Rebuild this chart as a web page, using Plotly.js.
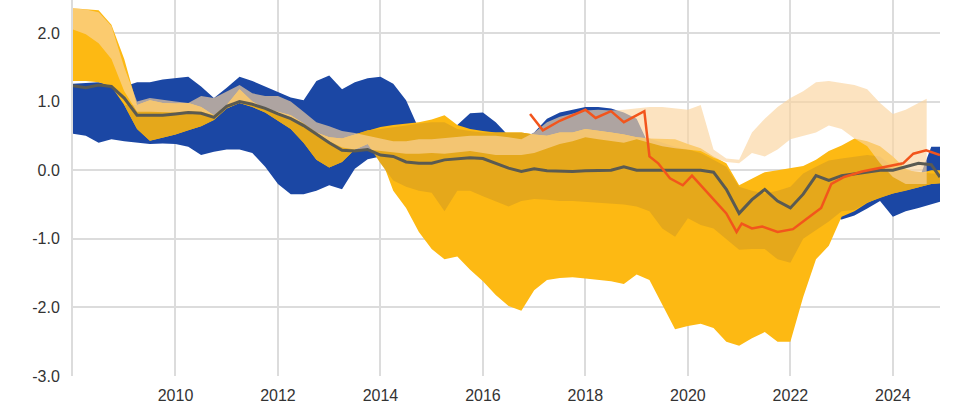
<!DOCTYPE html>
<html>
<head>
<meta charset="utf-8">
<script src="https://cdn.plot.ly/plotly-3.0.1.min.js"></script>
<style>
  html, body { margin: 0; padding: 0; background: #fff; }
  #chart { width: 963px; height: 409px; }
</style>
</head>
<body>
<div id="chart"></div>
<script>
/* ------------------------------------------------------------------ */
/* DATA (quarterly)                              */
/* ------------------------------------------------------------------ */
var quarters = [
  2008.00, 2008.25, 2008.50, 2008.75, 2009.00, 2009.25, 2009.50, 2009.75,
  2010.00, 2010.25, 2010.50, 2010.75, 2011.00, 2011.25, 2011.50, 2011.75,
  2012.00, 2012.25, 2012.50, 2012.75, 2013.00, 2013.25, 2013.50, 2013.75,
  2014.00, 2014.25, 2014.50, 2014.75, 2015.00, 2015.25, 2015.50, 2015.75,
  2016.00, 2016.25, 2016.50, 2016.75, 2017.00, 2017.25, 2017.50, 2017.75,
  2018.00, 2018.25, 2018.50, 2018.75, 2019.00, 2019.25, 2019.50, 2019.75,
  2020.00, 2020.25, 2020.50, 2020.75, 2021.00, 2021.25, 2021.50, 2021.75,
  2022.00, 2022.25, 2022.50, 2022.75, 2023.00, 2023.25, 2023.50, 2023.75,
  2024.00, 2024.25, 2024.50, 2024.75, 2024.92
];

// blue band
var blueUpper = [
  1.26, 1.27, 1.28, 1.25, 1.22, 1.28, 1.28, 1.32,
  1.34, 1.36, 1.22, 1.05, 1.20, 1.36, 1.30, 1.22,
  1.14, 1.06, 1.02, 1.30, 1.38, 1.18, 1.28, 1.34,
  1.36, 1.26, 1.02, 0.60, 0.50, 0.50, 0.66, 0.83,
  0.84, 0.70, 0.50, 0.45, 0.55, 0.75, 0.84, 0.88,
  0.92, 0.92, 0.90, 0.84, 0.75, 0.35, 0.20, 0.10,
  0.00, -0.10, -0.20, -0.30, -0.40, -0.40, -0.40, -0.50,
  -0.50, -0.50, -0.55, -0.60, -0.55, -0.50, -0.40, -0.30,
  -0.25, -0.20, -0.15, 0.34, 0.34
];
var blueLower = [
  0.53, 0.50, 0.40, 0.45, 0.42, 0.40, 0.38, 0.39,
  0.38, 0.34, 0.22, 0.27, 0.30, 0.30, 0.25, 0.05,
  -0.20, -0.35, -0.35, -0.30, -0.22, -0.28, 0.02, 0.16,
  0.20, 0.10, 0.00, -0.10, -0.20, -0.20, -0.20, -0.20,
  -0.20, -0.20, -0.20, -0.20, -0.20, -0.20, -0.20, -0.20,
  -0.20, -0.20, -0.20, -0.20, -0.20, -0.30, -0.40, -0.50,
  -0.50, -0.60, -0.70, -0.80, -0.90, -0.90, -0.90, -1.00,
  -1.00, -1.00, -0.90, -0.68, -0.72, -0.66, -0.56, -0.45,
  -0.68, -0.60, -0.55, -0.50, -0.46
];

// wide yellow band
var yellowUpper = [
  2.36, 2.34, 2.33, 2.12, 1.62, 0.95, 1.02, 0.98,
  0.97, 0.98, 0.92, 0.80, 0.95, 1.18, 1.00, 0.90,
  0.85, 0.80, 0.68, 0.55, 0.48, 0.46, 0.52, 0.58,
  0.63, 0.66, 0.68, 0.70, 0.74, 0.80, 0.66, 0.60,
  0.57, 0.55, 0.55, 0.55, 0.52, 0.50, 0.55, 0.55,
  0.60, 0.58, 0.55, 0.52, 0.48, 0.46, 0.46, 0.45,
  0.38, 0.32, 0.20, 0.10, -0.22, -0.12, -0.03, 0.00,
  0.03, 0.06, 0.15, 0.28, 0.36, 0.46, 0.42, 0.35,
  0.20, 0.02, -0.05, 0.00, 0.00
];
var yellowLower = [
  1.30, 1.30, 1.28, 1.22, 0.95, 0.60, 0.43, 0.47,
  0.52, 0.58, 0.64, 0.73, 0.90, 0.98, 0.92, 0.84,
  0.72, 0.60, 0.40, 0.15, 0.04, 0.12, 0.30, 0.38,
  0.20, -0.30, -0.55, -0.90, -1.15, -1.30, -1.26, -1.45,
  -1.62, -1.82, -1.98, -2.05, -1.75, -1.60, -1.57, -1.56,
  -1.58, -1.60, -1.62, -1.66, -1.52, -1.60, -1.95, -2.32,
  -2.27, -2.24, -2.30, -2.50, -2.56, -2.45, -2.36, -2.50,
  -2.50, -1.85, -1.30, -1.10, -0.68, -0.60, -0.48, -0.40,
  -0.34, -0.30, -0.25, -0.20, -0.19
];

// narrower gold band
var goldUpper = [
  1.30, 1.30, 1.28, 1.22, 0.95, 0.95, 1.02, 0.98,
  0.97, 0.98, 0.92, 0.80, 0.95, 1.18, 1.00, 0.90,
  0.85, 0.80, 0.68, 0.55, 0.48, 0.46, 0.52, 0.58,
  0.60, 0.62, 0.65, 0.68, 0.70, 0.70, 0.60, 0.57,
  0.55, 0.55, 0.55, 0.55, 0.52, 0.50, 0.55, 0.55,
  0.60, 0.58, 0.55, 0.52, 0.48, 0.46, 0.40, 0.34,
  0.30, 0.25, 0.15, 0.05, -0.24, -0.30, -0.34, -0.30,
  -0.24, -0.05, 0.05, 0.14, 0.17, 0.19, 0.22, 0.20,
  0.05, 0.00, -0.02, -0.05, -0.05
];
var goldLower = [
  1.30, 1.30, 1.28, 1.22, 0.95, 0.60, 0.43, 0.47,
  0.52, 0.58, 0.64, 0.73, 0.90, 0.98, 0.92, 0.84,
  0.72, 0.60, 0.40, 0.15, 0.04, 0.12, 0.30, 0.38,
  0.10, -0.15, -0.24, -0.30, -0.33, -0.60, -0.30, -0.30,
  -0.38, -0.45, -0.53, -0.45, -0.42, -0.43, -0.45, -0.45,
  -0.46, -0.47, -0.48, -0.50, -0.53, -0.60, -0.85, -0.97,
  -0.70, -0.80, -0.85, -1.00, -1.16, -1.15, -1.15, -1.30,
  -1.35, -1.00, -0.88, -0.75, -0.60, -0.58, -0.47, -0.40,
  -0.34, -0.30, -0.25, -0.20, -0.19
];

// pale band (stops a little earlier)
var paleDates = quarters.slice(0, 67).concat([2024.66]);
var paleUpper = [
  2.36, 2.34, 2.30, 2.10, 1.50, 1.00, 1.05, 1.02,
  1.00, 0.98, 1.08, 1.05, 1.15, 1.24, 1.12, 1.08,
  1.08, 1.00, 0.85, 0.70, 0.64, 0.57, 0.54, 0.50,
  0.45, 0.42, 0.42, 0.45, 0.45, 0.47, 0.48, 0.50,
  0.50, 0.50, 0.48, 0.45, 0.55, 0.70, 0.78, 0.83,
  0.87, 0.88, 0.87, 0.88, 0.90, 0.92, 0.92, 0.90,
  0.88, 0.95, 0.30, 0.17, 0.15, 0.55, 0.75, 0.92,
  1.05, 1.15, 1.28, 1.30, 1.27, 1.24, 1.18, 0.98,
  0.82, 0.88, 0.98, 1.04
];
var paleLower = [
  2.05, 1.98, 1.85, 1.62, 1.15, 0.85, 0.85, 0.84,
  0.84, 0.86, 0.85, 0.80, 0.95, 1.00, 0.96, 0.90,
  0.83, 0.77, 0.68, 0.55, 0.42, 0.33, 0.30, 0.30,
  0.28, 0.26, 0.24, 0.24, 0.25, 0.24, 0.26, 0.28,
  0.25, 0.22, 0.22, 0.22, 0.25, 0.32, 0.38, 0.42,
  0.48, 0.45, 0.42, 0.40, 0.45, 0.40, 0.35, 0.32,
  0.30, 0.28, 0.18, 0.12, 0.10, 0.25, 0.20, 0.30,
  0.45, 0.50, 0.55, 0.65, 0.60, 0.46, 0.35, 0.10,
  -0.10, -0.20, -0.20, -0.20
];

// median line
var median = [
  1.23, 1.20, 1.24, 1.22, 1.05, 0.80, 0.80, 0.80,
  0.82, 0.84, 0.83, 0.77, 0.93, 1.00, 0.96, 0.90,
  0.82, 0.75, 0.65, 0.52, 0.40, 0.29, 0.28, 0.30,
  0.22, 0.20, 0.12, 0.10, 0.10, 0.15, 0.17, 0.18,
  0.17, 0.10, 0.03, -0.02, 0.02, -0.01, -0.02, -0.02,
  -0.01, 0.00, 0.00, 0.05, 0.00, 0.00, 0.00, 0.00,
  0.00, 0.00, -0.03, -0.28, -0.63, -0.43, -0.28, -0.45,
  -0.55, -0.35, -0.08, -0.15, -0.08, -0.05, -0.02, 0.00,
  0.00, 0.05, 0.10, 0.08, -0.10
];

// orange line
var orangeDates = [
  2016.92, 2017.17, 2017.50, 2017.75, 2018.00, 2018.20, 2018.50, 2018.75,
  2019.00, 2019.15, 2019.25, 2019.42, 2019.65, 2019.90, 2020.08, 2020.40,
  2020.75, 2020.95, 2021.05, 2021.25, 2021.45, 2021.75, 2022.05, 2022.30,
  2022.60, 2022.80, 2023.05, 2023.40, 2023.80, 2024.20, 2024.40, 2024.65,
  2024.92
];
var orange = [
  0.82, 0.58, 0.72, 0.80, 0.88, 0.76, 0.86, 0.70,
  0.80, 0.86, 0.20, 0.10, -0.12, -0.22, -0.08, -0.34,
  -0.63, -0.90, -0.78, -0.85, -0.82, -0.90, -0.86, -0.72,
  -0.55, -0.20, -0.10, -0.02, 0.04, 0.10, 0.24, 0.29,
  0.22
];

var yTicks = [-3, -2, -1, 0, 1, 2];
var yTickText = ['-3.0', '-2.0', '-1.0', '0.0', '1.0', '2.0'];
var xTicks = [2010, 2012, 2014, 2016, 2018, 2020, 2022, 2024];
var xTickText = ['2010', '2012', '2014', '2016', '2018', '2020', '2022', '2024'];

/* ------------------------------------------------------------------ */
/* TRACES                                                              */
/* ------------------------------------------------------------------ */
function band(x, lower, upper, color) {
  return [
    { x: x, y: lower, mode: 'lines', line: { width: 0 }, hoverinfo: 'skip', showlegend: false },
    { x: x, y: upper, mode: 'lines', line: { width: 0 }, fill: 'tonexty', fillcolor: color,
      hoverinfo: 'skip', showlegend: false }
  ];
}

var traces = []
  .concat(band(quarters, blueLower, blueUpper, '#1b47a4'))
  .concat(band(quarters, yellowLower, yellowUpper, '#fdb913'))
  .concat(band(quarters, goldLower, goldUpper, '#e5a81b'))
  .concat(band(paleDates, paleLower, paleUpper, 'rgba(250,212,160,0.66)'));

traces.push({ x: quarters, y: median, mode: 'lines', line: { color: '#5a5a52', width: 3 },
  hoverinfo: 'skip', showlegend: false });
traces.push({ x: orangeDates, y: orange, mode: 'lines', line: { color: '#f2551c', width: 2.5 },
  hoverinfo: 'skip', showlegend: false });

var tickFont = { family: 'Liberation Sans, Arial, sans-serif', size: 16, color: '#333333' };

var layout = {
  width: 963,
  height: 409,
  margin: { l: 73, r: 23, t: 0, b: 33 },
  paper_bgcolor: '#ffffff',
  plot_bgcolor: '#ffffff',
  showlegend: false,
  hovermode: false,
  font: tickFont,
  xaxis: {
    range: [2008, 2024.92],
    tickvals: xTicks,
    ticktext: xTickText,
    tickfont: tickFont,
    showgrid: true,
    gridcolor: '#dcdcdc',
    gridwidth: 2,
    zeroline: false,
    ticks: 'outside',
    ticklen: 5,
    tickcolor: 'rgba(0,0,0,0)',
    fixedrange: true
  },
  yaxis: {
    range: [-3, 2.48],
    tickvals: yTicks,
    ticktext: yTickText,
    tickfont: tickFont,
    showgrid: true,
    gridcolor: '#dcdcdc',
    gridwidth: 2,
    zeroline: false,
    showline: true,
    linecolor: '#dcdcdc',
    linewidth: 2,
    ticks: 'outside',
    ticklen: 8,
    tickcolor: 'rgba(0,0,0,0)',
    fixedrange: true
  }
};

Plotly.newPlot('chart', traces, layout, { displayModeBar: false, staticPlot: true });
</script>
</body>
</html>
